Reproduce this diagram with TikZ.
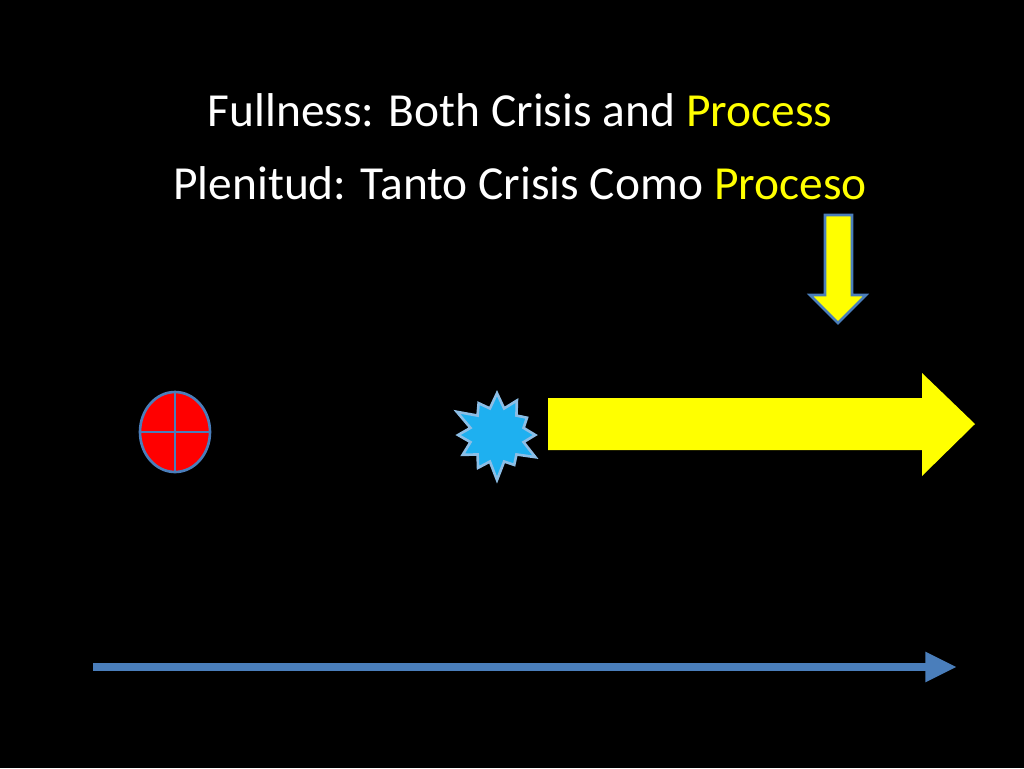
\documentclass[tikz,border=0pt]{standalone}
\usepackage{fontspec}
\setmainfont{Carlito}
\usetikzlibrary{shapes.symbols,shapes.geometric,arrows.meta}
\definecolor{ttlyellow}{RGB}{255,255,0}
\definecolor{lineblue}{RGB}{74,126,187}
\definecolor{starblue}{RGB}{30,176,240}
\definecolor{edgeblue}{RGB}{140,190,230}
\tikzset{
  ttl/.style = {text=white, font=\fontsize{27}{32}\selectfont, anchor=center},
  yarrow/.style = {fill=ttlyellow},
}
\begin{document}
\begin{tikzpicture}[x=0.02cm,y=-0.02cm]
  \fill[black] (0,0) rectangle (1024,768);
  \useasboundingbox (0,0) rectangle (1024,768);
  % title
  \node[ttl] (line1) at (520,110) {Fullness: Both Crisis and \textcolor{ttlyellow}{Process}};
  \node[ttl] (line2) at (520,183) {Plenitud: Tanto Crisis Como \textcolor{ttlyellow}{Proceso}};
  % down arrow
  \draw[yarrow, draw=lineblue, line width=1.5pt]
    (825,215) -- (852,215) -- (852,295) -- (866,295) -- (838,323)
    -- (810,295) -- (825,295) -- cycle;
  % red circle
  \node[ellipse, draw=lineblue, fill=red, line width=1.5pt, inner sep=0pt,
        minimum width=1.4cm, minimum height=1.6cm] (crisis) at (175,432) {};
  \draw[lineblue, line width=1.5pt] (crisis.north) -- (crisis.south)
    (crisis.west) -- (crisis.east);
  % starburst
  \node[starburst, starburst points=12, starburst point height=0.4cm,
        fill=starblue, draw=edgeblue, line width=1.5pt,
        minimum width=1.9cm, minimum height=1.9cm, inner sep=0pt] (burst) at (497,435) {};
  % big yellow arrow
  \fill[yarrow] (548,398) -- (922,398) -- (922,373) -- (975,424)
    -- (922,476) -- (922,450) -- (548,450) -- cycle;
  % time line
  \coordinate (tstart) at (93,667);
  \coordinate (tend) at (957,667);
  \draw[lineblue, line width=4.5pt, -{Triangle[length=18pt,width=16pt]}] (tstart) -- (tend);
\end{tikzpicture}
\end{document}
